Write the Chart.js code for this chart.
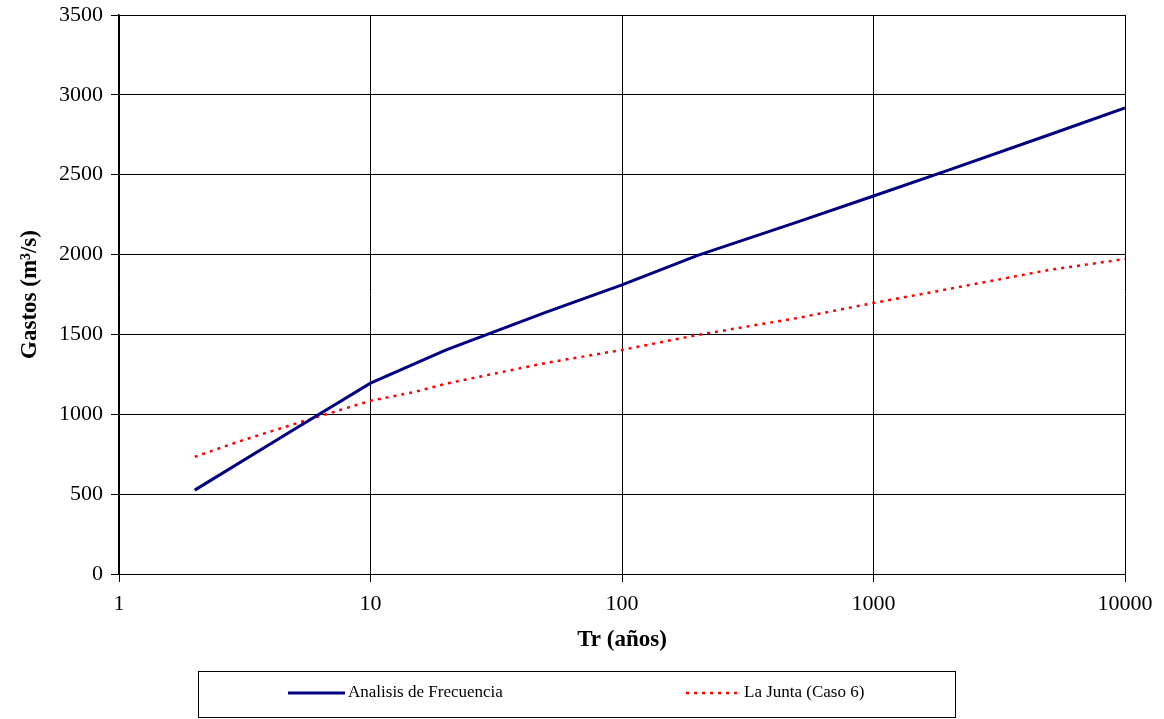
<!DOCTYPE html>
<html>
<head>
<meta charset="utf-8">
<script src="https://cdn.jsdelivr.net/npm/chart.js@4.4.1/dist/chart.umd.min.js"></script>
<style>
  html, body { margin: 0; padding: 0; background: #fff; }
  canvas { display: block; }
</style>
</head>
<body>
<canvas id="c" width="1164" height="719"></canvas>
<script>
// Return periods (years) and discharges (m³/s)
const trFrecuencia = [2, 5, 10, 20, 50, 100, 200, 500, 1000, 2000, 5000, 10000];
const gastoFrecuencia = [525, 908, 1195, 1403, 1640, 1810, 1995, 2205, 2367, 2530, 2750, 2918];

const trJunta = [2, 3, 5, 10, 15, 20, 50, 100, 200, 500, 1000, 2000, 5000, 10000];
const gastoJunta = [733, 830, 940, 1085, 1140, 1192, 1322, 1403, 1497, 1603, 1697, 1785, 1904, 1972];

const xTickValues = [1, 10, 100, 1000, 10000];
const xTickLabels = ['1', '10', '100', '1000', '10000'];
const yMin = 0, yMax = 3500, yStep = 500;

const serif = "'Liberation Serif', 'Times New Roman', serif";

const toPoints = (xs, ys) => xs.map((x, i) => ({ x: x, y: ys[i] }));

// Boxed legend below the axis title
const boxedLegend = {
  id: 'boxedLegend',
  afterDraw(chart) {
    const ctx = chart.ctx;
    const ds = chart.data.datasets;
    ctx.save();
    ctx.strokeStyle = '#000';
    ctx.lineWidth = 1;
    ctx.strokeRect(198.5, 671.5, 757, 46);
    const items = [
      { x0: 288, x1: 345, tx: 348, d: ds[0] },
      { x0: 686, x1: 739, tx: 744, d: ds[1] }
    ];
    const ly = 693;
    items.forEach(it => {
      ctx.beginPath();
      ctx.strokeStyle = it.d.borderColor;
      ctx.lineWidth = it.d.borderWidth;
      ctx.setLineDash(it.d.borderDash || []);
      ctx.moveTo(it.x0, ly);
      ctx.lineTo(it.x1, ly);
      ctx.stroke();
      ctx.setLineDash([]);
      ctx.fillStyle = '#000';
      ctx.font = '17px ' + serif;
      ctx.textAlign = 'left';
      ctx.textBaseline = 'middle';
      ctx.fillText(it.d.label, it.tx, ly);
    });
    ctx.restore();
  }
};

new Chart(document.getElementById('c'), {
  type: 'line',
  data: {
    datasets: [
      {
        label: 'Analisis de Frecuencia',
        data: toPoints(trFrecuencia, gastoFrecuencia),
        borderColor: '#000080',
        borderWidth: 3,
        pointRadius: 0,
        tension: 0,
        fill: false
      },
      {
        label: 'La Junta (Caso 6)',
        data: toPoints(trJunta, gastoJunta),
        borderColor: '#ff0000',
        borderWidth: 2.5,
        borderDash: [3, 5],
        pointRadius: 0,
        tension: 0,
        fill: false
      }
    ]
  },
  options: {
    responsive: false,
    animation: false,
    events: [],
    layout: { padding: { left: 0, right: 39, top: 15, bottom: 55 } },
    plugins: {
      legend: { display: false },
      tooltip: { enabled: false }
    },
    scales: {
      x: {
        type: 'logarithmic',
        min: 1,
        max: 10000,
        afterBuildTicks: s => { s.ticks = xTickValues.map(v => ({ value: v })); },
        afterFit: s => { s.height = 90; s.paddingLeft = 0; s.paddingRight = 0; },
        ticks: {
          autoSkip: false,
          maxRotation: 0,
          color: '#000',
          padding: 9,
          font: { family: serif, size: 22 },
          callback: (v) => {
            const i = xTickValues.indexOf(v);
            return i >= 0 ? xTickLabels[i] : '';
          }
        },
        grid: { color: '#000', lineWidth: 1, tickLength: 8 },
        border: { color: '#000', width: 1 },
        title: {
          display: true,
          text: 'Tr (años)',
          color: '#000',
          font: { family: serif, size: 23, weight: 'bold' },
          padding: { top: 0, bottom: 10 }
        }
      },
      y: {
        type: 'linear',
        min: yMin,
        max: yMax,
        afterFit: s => { s.width = 119; s.paddingTop = 0; s.paddingBottom = 0; },
        ticks: {
          stepSize: yStep,
          color: '#000',
          padding: 8,
          font: { family: serif, size: 22 },
          callback: (v) => String(v)
        },
        grid: { color: '#000', lineWidth: 1, tickLength: 8 },
        border: { color: '#000', width: 1.5 },
        title: {
          display: true,
          text: 'Gastos (m³/s)',
          color: '#000',
          font: { family: serif, size: 23, weight: 'bold' },
          padding: { top: 16, bottom: 0 }
        }
      }
    }
  },
  plugins: [boxedLegend]
});
</script>
</body>
</html>
